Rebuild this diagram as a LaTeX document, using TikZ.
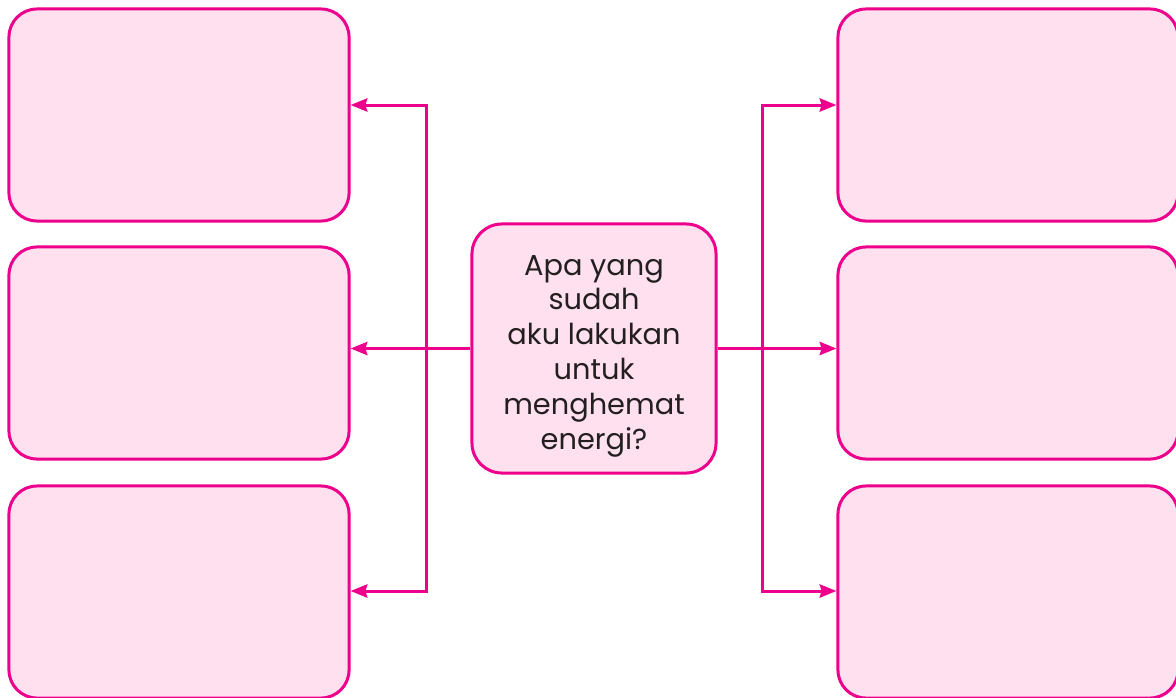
\documentclass[tikz,border=0pt]{standalone}
\usepackage{fontspec}
\setmainfont{Poppins}
\usetikzlibrary{arrows.meta,positioning,calc}
\definecolor{pmag}{HTML}{EC008C}
\definecolor{ppink}{HTML}{FFE0EE}
\definecolor{pink}{HTML}{231F20}
\tikzset{
  card/.style={draw=pmag,fill=ppink,rounded corners=0.7cm,line width=0.075cm,minimum width=8.5cm,minimum height=5.3cm,inner sep=0pt},
  ask/.style={draw=pmag,fill=ppink,rounded corners=0.75cm,line width=0.075cm,minimum width=6.1cm,minimum height=6.225cm,inner sep=0pt,align=center,text=pink,font=\fontsize{20.5}{24.8}\selectfont},
  arr/.style={{Stealth[length=0.42cm,width=0.33cm,inset=0.05cm]}-{Stealth[length=0.42cm,width=0.33cm,inset=0.05cm]},line width=0.075cm,draw=pmag},
  sarr/.style={-{Stealth[length=0.42cm,width=0.33cm,inset=0.05cm]},line width=0.075cm,draw=pmag},
}
\begin{document}
\begin{tikzpicture}[x=0.025cm,y=-0.025cm]
  \useasboundingbox (0,0) rectangle (1176,697);
  \clip (0,0) rectangle (1176,697);
  % left
  \node[card] (l1) at (179,115) {};
  \node[card] (l2) at (179,353) {};
  \node[card] (l3) at (179,592) {};
  % right
  \node[card] (r1) at (1008,115) {};
  \node[card] (r2) at (1008,353) {};
  \node[card] (r3) at (1008,592) {};
  % middle
  \node[ask] (q) at (594,348.5) {\rule{0pt}{25pt}Apa yang\\sudah\\aku lakukan\\untuk\\menghemat\\energi?};
  \coordinate (lt) at (426,105); \coordinate (lb) at (426,591);
  \coordinate (rt) at (762,105); \coordinate (rb) at (762,591);
  \draw[arr] (lt -| l1.east) -- (lt) -- (lb) -- (lb -| l3.east);
  \draw[arr] (rt -| r1.west) -- (rt) -- (rb) -- (rb -| r3.west);
  \draw[sarr] (q.west) -- (q.west -| l2.east);
  \draw[sarr] (q.east) -- (q.east -| r2.west);
\end{tikzpicture}
\end{document}
